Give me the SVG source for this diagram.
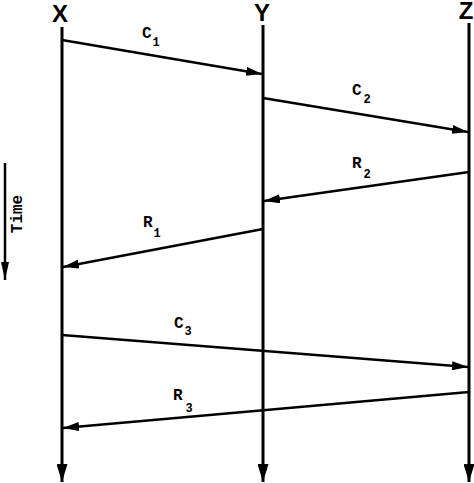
<svg xmlns="http://www.w3.org/2000/svg" width="474" height="483" viewBox="0 0 474 483">
<style>
.life{stroke:#000;stroke-width:3;fill:none}
.msg{stroke:#000;stroke-width:2.5;fill:none}
.head{font-family:"Liberation Sans",Arial,sans-serif;font-size:24px;font-weight:bold;fill:#000;text-anchor:middle}
.lbl{font-family:"Liberation Mono","Courier New",monospace;font-size:16px;font-weight:bold;fill:#000}
.sub{font-size:12px}
</style>
<defs>
<marker id="ah" markerUnits="userSpaceOnUse" markerWidth="16" markerHeight="9" refX="16" refY="4.5" orient="auto">
<path d="M0,0 L16,4.5 L0,9 z" fill="#000"/>
</marker>
<marker id="lh" markerUnits="userSpaceOnUse" markerWidth="18" markerHeight="11" refX="18" refY="5.5" orient="auto">
<path d="M0,0 L18,5.5 L0,11 z" fill="#000"/>
</marker>
<marker id="th" markerUnits="userSpaceOnUse" markerWidth="18" markerHeight="8" refX="18" refY="4" orient="auto">
<path d="M0,0 L18,4 L0,8 z" fill="#000"/>
</marker>
</defs>
<g id="nodeX">
<text class="head" x="60" y="22">X</text>
<line class="life" x1="62" y1="27" x2="62" y2="482" marker-end="url(#lh)"/>
</g>
<g id="nodeY">
<text class="head" x="262" y="21">Y</text>
<line class="life" x1="263" y1="25" x2="263" y2="482" marker-end="url(#lh)"/>
</g>
<g id="nodeZ">
<text class="head" x="466" y="19">Z</text>
<line class="life" x1="469" y1="23" x2="469" y2="482" marker-end="url(#lh)"/>
</g>
<g id="time">
<line class="msg" x1="5" y1="163" x2="5" y2="280" marker-end="url(#th)"/>
<text class="lbl" font-size="14" transform="translate(22,214) rotate(-90)" text-anchor="middle">Time</text>
</g>
<g id="connectors">
<line class="msg" x1="62" y1="40" x2="262" y2="74" marker-end="url(#ah)"/>
<line class="msg" x1="263" y1="98" x2="468" y2="132" marker-end="url(#ah)"/>
<line class="msg" x1="469" y1="172" x2="264" y2="201" marker-end="url(#ah)"/>
<line class="msg" x1="263" y1="229" x2="63" y2="267" marker-end="url(#ah)"/>
<line class="msg" x1="62" y1="335" x2="468" y2="367" marker-end="url(#ah)"/>
<line class="msg" x1="469" y1="392" x2="63" y2="428" marker-end="url(#ah)"/>
</g>
<g id="labels">
<text class="lbl" x="142" y="38">C<tspan class="sub" dx="1" dy="8">1</tspan></text>
<text class="lbl" x="352" y="95">C<tspan class="sub" dx="2" dy="8">2</tspan></text>
<text class="lbl" x="352" y="168">R<tspan class="sub" dx="2" dy="10">2</tspan></text>
<text class="lbl" x="143" y="227">R<tspan class="sub" dx="1" dy="10">1</tspan></text>
<text class="lbl" x="174" y="328">C<tspan class="sub" dx="1" dy="7">3</tspan></text>
<text class="lbl" x="173" y="400">R<tspan class="sub" dx="3" dy="12">3</tspan></text>
</g>
</svg>
